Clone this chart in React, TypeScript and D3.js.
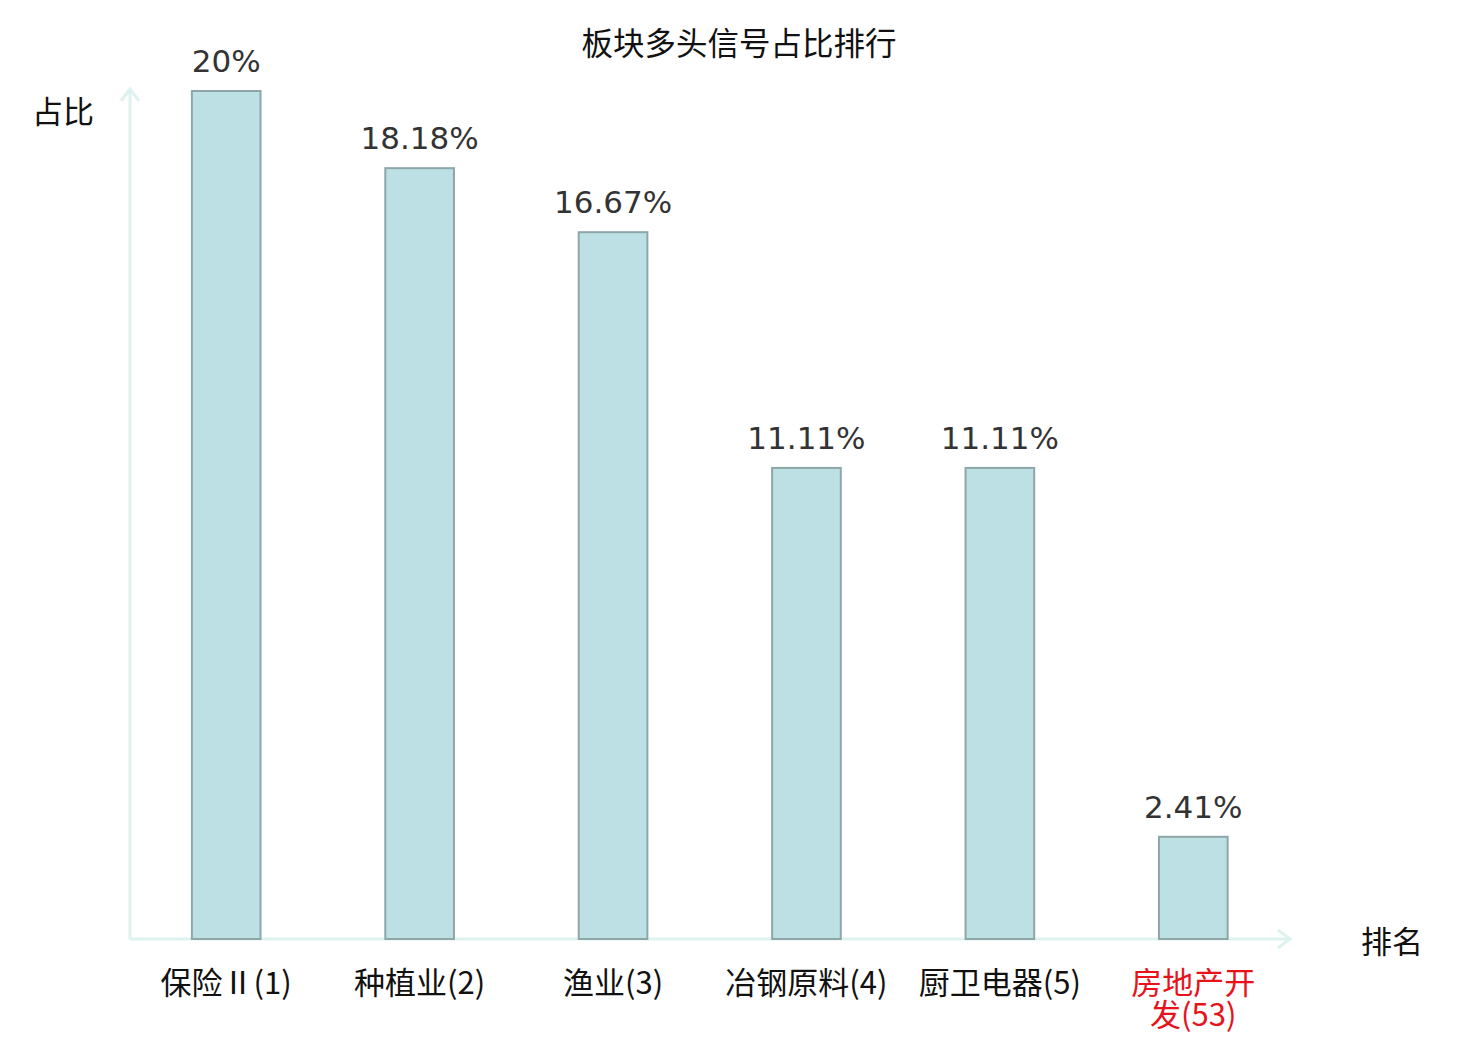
import React from "react";
import * as d3 from "d3";

const categories = ["保险Ⅱ(1)", "种植业(2)", "渔业(3)", "冶钢原料(4)", "厨卫电器(5)", "房地产开发(53)"];
const categoryLines = [["保险Ⅱ(1)"], ["种植业(2)"], ["渔业(3)"], ["冶钢原料(4)"], ["厨卫电器(5)"], ["房地产开", "发(53)"]];
const values = [20, 18.18, 16.67, 11.11, 11.11, 2.41];
const valueLabels = ["20%", "18.18%", "16.67%", "11.11%", "11.11%", "2.41%"];
const highlighted = [false, false, false, false, false, true];
const yDomain = [0, 20];

const W = 1480;
const H = 1040;
const left = 129.5;
const right = 1290;
const top = 91;
const bottom = 939;

export default function App() {
  const x = d3.scaleBand<string>().domain(categories).range([left, right]).paddingInner(0).paddingOuter(0);
  const y = d3.scaleLinear().domain(yDomain).range([bottom, top]);
  const bw = x.bandwidth() * 0.355;
  const axisColor = "#def2ef";
  const cjk = "'Noto Sans CJK SC', 'DejaVu Sans', sans-serif";
  const num = "'DejaVu Sans', 'Noto Sans CJK SC', sans-serif";
  return (
    <svg width={W} height={H} style={{ position: "absolute", left: 0, top: 0, background: "#fff" }}>
      <text x={739} y={41} textAnchor="middle" dominantBaseline="central" fontSize={31.5} fontFamily={cjk} fill="#111">
        板块多头信号占比排行
      </text>
      {/* axes */}
      <line x1={130} y1={bottom} x2={130} y2={top - 2} stroke={axisColor} strokeWidth={3} />
      <path d={`M121,${top + 10} L130,${top - 2} L139,${top + 10}`} fill="none" stroke={axisColor} strokeWidth={3} />
      <line x1={130} y1={bottom} x2={right} y2={bottom} stroke={axisColor} strokeWidth={3} />
      <path d={`M${right - 12},${bottom - 9} L${right},${bottom} L${right - 12},${bottom + 9}`} fill="none" stroke={axisColor} strokeWidth={3} />
      {/* bars */}
      {categories.map((c, i) => {
        const cx = (x(c) as number) + x.bandwidth() / 2;
        const yv = y(values[i]);
        return (
          <g key={c}>
            <rect x={cx - bw / 2} y={yv} width={bw} height={bottom - yv} fill="#bce0e3" stroke="#8fa6a9" strokeWidth={2} />
            <text x={cx} y={yv - 30} textAnchor="middle" dominantBaseline="central" fontSize={31} fontFamily={num} fill="#333">
              {valueLabels[i]}
            </text>
            <text x={cx} y={980} textAnchor="middle" dominantBaseline="central" fontSize={31} fontFamily={cjk} fill={highlighted[i] ? "#e8121a" : "#111"}>
              {categoryLines[i].map((ln, j) => (
                <tspan key={j} x={cx} dy={j === 0 ? 0 : 32}>{ln}</tspan>
              ))}
            </text>
          </g>
        );
      })}
      <text x={63} y={109} textAnchor="middle" dominantBaseline="central" fontSize={31} fontFamily={cjk} fill="#111">占比</text>
      <text x={1392} y={939} textAnchor="middle" dominantBaseline="central" fontSize={31} fontFamily={cjk} fill="#111">排名</text>
    </svg>
  );
}
